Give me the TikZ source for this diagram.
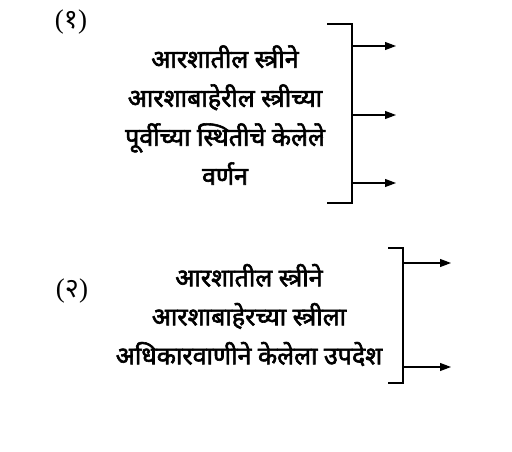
\documentclass[tikz,border=0pt]{standalone}
\usepackage{fontspec}
\newfontfamily\devfont[Script=Devanagari]{Noto Sans}
\newfontfamily\devbold[Script=Devanagari,FakeBold=2.4]{Noto Sans}
\newfontfamily\parfont{Liberation Serif}
\usetikzlibrary{arrows.meta}
\tikzset{
  txt/.style={align=center, inner sep=0pt, font=\devbold\fontsize{25}{39}\selectfont},
  lbl/.style={inner sep=0pt, font=\devfont\fontsize{27}{30}\selectfont},
  brk/.style={line width=1.8pt},
  arr/.style={line width=1.1pt, -{Triangle[length=11pt,width=8pt]}}
}
\begin{document}
\begin{tikzpicture}[x=1pt,y=1pt]
\useasboundingbox (0,0) rectangle (512,-452);
% part 1
\node[lbl] (l1) at (71,-22) {{\parfont(}१{\parfont)}};
\node[txt] (t1) at (225,-115) {आरशातील स्त्रीने\\आरशाबाहेरील स्त्रीच्या\\पूर्वीच्या स्थितीचे केलेले\\वर्णन};
\coordinate (b1t) at (327,-24);
\coordinate (b1tr) at (352,-24);
\coordinate (b1br) at (352,-203);
\coordinate (b1b) at (327,-203);
\draw[brk] (b1t) -- (b1tr) -- (b1br) -- (b1b);
\coordinate (a1s) at (352,-46);
\coordinate (a1e) at (396,-46);
\coordinate (a2s) at (352,-115);
\coordinate (a2e) at (396,-115);
\coordinate (a3s) at (352,-183);
\coordinate (a3e) at (396,-183);
\draw[arr] (a1s) -- (a1e);
\draw[arr] (a2s) -- (a2e);
\draw[arr] (a3s) -- (a3e);
% part 2
\node[lbl] (l2) at (72,-291) {{\parfont(}२{\parfont)}};
\node[txt] (t2) at (249,-315) {आरशातील स्त्रीने\\आरशाबाहेरच्या स्त्रीला\\अधिकारवाणीने केलेला उपदेश};
\coordinate (b2t) at (388,-248);
\coordinate (b2tr) at (403,-248);
\coordinate (b2br) at (403,-383);
\coordinate (b2b) at (388,-383);
\draw[brk] (b2t) -- (b2tr) -- (b2br) -- (b2b);
\coordinate (c1s) at (403,-263);
\coordinate (c1e) at (451,-263);
\coordinate (c2s) at (403,-367);
\coordinate (c2e) at (451,-367);
\draw[arr] (c1s) -- (c1e);
\draw[arr] (c2s) -- (c2e);
\end{tikzpicture}
\end{document}
